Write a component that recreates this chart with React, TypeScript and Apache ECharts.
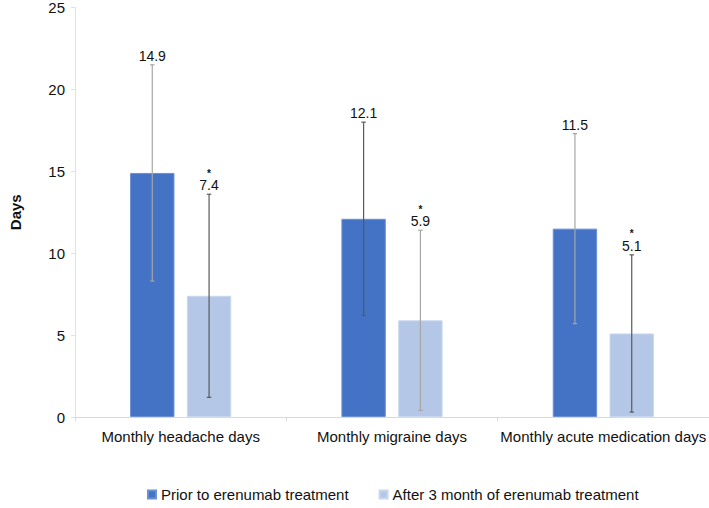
import React, { useEffect, useRef } from "react";
import * as echarts from "echarts";

const categories = ["Monthly headache days", "Monthly migraine days", "Monthly acute medication days"];
const seriesNames = ["Prior to erenumab treatment", "After 3 month of erenumab treatment"];
const priorValues = [14.9, 12.1, 11.5];
const afterValues = [7.4, 5.9, 5.1];
const priorErrors = [6.6, 5.9, 5.8];
const afterErrors = [6.2, 5.5, 4.8];
const priorMarks = ["", "", ""];
const afterMarks = ["*", "*", "*"];
const yMin = 0;
const yMax = 25;
const yStep = 5;

const FONT = "Liberation Sans, Arial, sans-serif";
const priorErrColors = ["#A6A6A6", "#595959", "#A6A6A6"];
const afterErrColors = ["#595959", "#A6A6A6", "#595959"];

function errorSeries(name: string, values: number[], errors: number[], marks: string[], colors: string[], side: number) {
  return {
    type: "custom",
    name,
    z: 10,
    clip: false,
    data: values.map((v, i) => [i, v, errors[i], i]),
    renderItem: (params: any, api: any) => {
      const ci = api.value(0);
      const v = api.value(1);
      const e = api.value(2);
      const idx = api.value(3);
      const band = api.size([1, 0])[0];
      const bw = band * 0.21;
      const gap = bw * 0.28;
      const off = ((bw + gap) / 2) * side;
      const top = api.coord([ci, v + e]);
      const bot = api.coord([ci, v - e]);
      const x = top[0] + off;
      const color = colors[idx];
      const capW = 2.2;
      const lineStyle = { stroke: color, lineWidth: 1.2 };
      const mark = marks[idx];
      const children: any[] = [
        { type: "line", shape: { x1: x, y1: top[1], x2: x, y2: bot[1] }, style: lineStyle },
        { type: "line", shape: { x1: x - capW, y1: top[1], x2: x + capW, y2: top[1] }, style: lineStyle },
        { type: "line", shape: { x1: x - capW, y1: bot[1], x2: x + capW, y2: bot[1] }, style: lineStyle },
        {
          type: "text",
          style: {
            text: v.toFixed(1),
            x,
            y: top[1] - 2,
            align: "center",
            verticalAlign: "bottom",
            fontFamily: FONT,
            fontSize: 14,
            fill: "#111",
          },
        },
      ];
      if (mark) {
        children.push({
          type: "text",
          style: {
            text: mark,
            x,
            y: top[1] - 21,
            align: "center",
            verticalAlign: "middle",
            fontFamily: FONT,
            fontSize: 10,
            fontWeight: "bold",
            fill: "#111",
          },
        });
      }
      return { type: "group", children };
    },
  };
}

export default function App() {
  const ref = useRef<HTMLDivElement>(null);
  useEffect(() => {
    if (!ref.current) return;
    const chart = echarts.init(ref.current, undefined, { renderer: "svg" });
    chart.setOption({
      animation: false,
      backgroundColor: "#ffffff",
      grid: { left: 70, right: 0, top: 6, bottom: 91, containLabel: false },
      legend: {
        data: seriesNames,
        top: 487,
        left: 147,
        icon: "rect",
        itemWidth: 8,
        itemHeight: 8,
        itemGap: 30,
        padding: 0,
        textStyle: { fontFamily: FONT, fontSize: 15, color: "#111" },
      },
      xAxis: {
        type: "category",
        data: categories,
        axisLine: { lineStyle: { color: "#D9D9D9", width: 1 } },
        axisTick: { show: true, alignWithLabel: false, length: 4, lineStyle: { color: "#D9D9D9" } },
        axisLabel: { interval: 0, fontFamily: FONT, fontSize: 15, color: "#111", margin: 12 },
        splitLine: { show: false },
      },
      yAxis: {
        type: "value",
        min: yMin,
        max: yMax,
        interval: yStep,
        name: "Days",
        nameLocation: "middle",
        nameRotate: 90,
        nameGap: 52,
        nameTextStyle: { fontFamily: FONT, fontSize: 15, fontWeight: "bold", color: "#111" },
        axisLine: { show: true, lineStyle: { color: "#DCE3F0", width: 1 } },
        axisTick: { show: true, length: 4, lineStyle: { color: "#DCE3F0" } },
        axisLabel: { fontFamily: FONT, fontSize: 15, color: "#111", margin: 10 },
        splitLine: { show: false },
      },
      series: [
        {
          type: "bar",
          name: seriesNames[0],
          data: priorValues,
          barWidth: "21%",
          barGap: "28%",
          itemStyle: { color: "#4472C4", borderColor: "#6A8FD3", borderWidth: 1 },
        },
        {
          type: "bar",
          name: seriesNames[1],
          data: afterValues,
          barWidth: "21%",
          barGap: "28%",
          itemStyle: { color: "#B4C7E7", borderColor: "#C9D7EE", borderWidth: 1 },
        },
        errorSeries("err-prior", priorValues, priorErrors, priorMarks, priorErrColors, -1),
        errorSeries("err-after", afterValues, afterErrors, afterMarks, afterErrColors, 1),
      ],
    });
    return () => chart.dispose();
  }, []);
  return <div ref={ref} style={{ position: "absolute", left: 0, top: 0, width: 709, height: 508 }} />;
}
